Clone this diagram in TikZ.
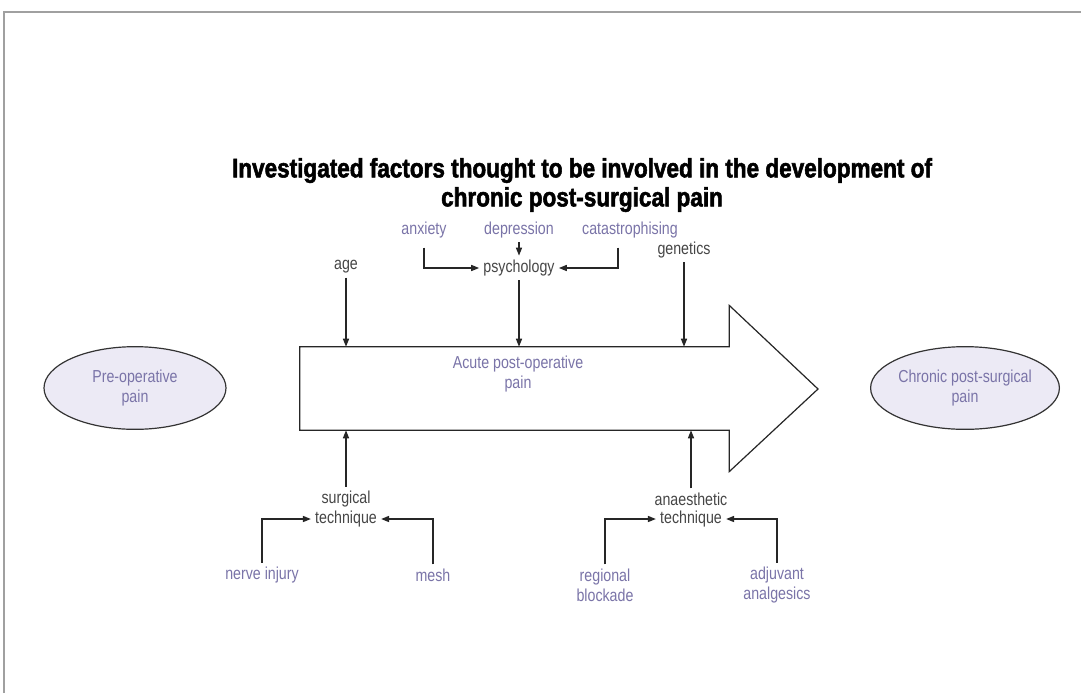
\documentclass[tikz,border=0pt]{standalone}
\usepackage{fontspec}
\usetikzlibrary{arrows.meta,shapes.geometric,positioning}
\newfontfamily\labelfont[FakeStretch=0.82]{Liberation Sans}
\newfontfamily\titlefont[FakeStretch=0.845,FakeBold=2]{Liberation Sans Bold}
\definecolor{factorcol}{RGB}{122,116,168}
\definecolor{groupcol}{RGB}{70,70,70}
\definecolor{painfill}{RGB}{236,234,245}
\definecolor{framecol}{RGB}{160,160,160}
\tikzset{
  factor/.style={text=factorcol, font=\labelfont\fontsize{13}{15}\selectfont, align=center, inner sep=3pt},
  group/.style={text=groupcol, font=\labelfont\fontsize{13}{15}\selectfont, align=center, inner sep=3pt},
  pain/.style={ellipse, draw=black!80, line width=0.9pt, fill=painfill, text=factorcol,
    font=\labelfont\fontsize{13}{15}\selectfont, align=center,
    minimum width=136.5pt, minimum height=62pt, inner sep=0pt},
  headline/.style={font=\titlefont\fontsize{20}{21.75}\selectfont, align=center},
  feed/.style={-{Triangle[length=6pt,width=4.5pt]}, line width=1.1pt, draw=black!85},
  shaftline/.style={line width=0.9pt, draw=black!85}
}
\begin{document}
\begin{tikzpicture}[x=0.75pt,y=-0.75pt]
\newcommand{\headext}{31pt}
\useasboundingbox (0,0) rectangle (1081,693);
\fill[white] (0,0) rectangle (1081,693);
\draw[framecol, line width=1.2pt] (4,693) -- (4,12) -- (1081,12);

\node[headline] (title) at (582,185) {Investigated factors thought to be involved in the development of\\chronic post-surgical pain};

\node[minimum width=321.75pt, minimum height=62.25pt, inner sep=0pt] (shaft) at (514.5,388.5) {};
\coordinate (tip) at (818,389);
\draw[shaftline] (shaft.north east) -- (shaft.north west) -- (shaft.south west) -- (shaft.south east)
  -- ([yshift=-\headext]shaft.south east) -- (tip) -- ([yshift=\headext]shaft.north east) -- cycle;
\node[factor] (acute) at (518,374) {Acute post-operative\\pain};

\node[pain] (pre) at (135,388) {Pre-operative\\pain};
\node[pain] (chronic) at (965,388) {Chronic post-surgical\\pain};

\node[factor] (anxiety) at (424,230) {anxiety};
\node[factor] (depression) at (519,230) {depression};
\node[factor] (catastroph) at (630,230) {catastrophising};
\node[group] (psychology) at (519,268) {psychology};
\node[group] (age) at (346,267) {age};
\node[group] (genetics) at (684,250) {genetics};
\draw[feed] ([yshift=-4pt]anxiety.south) |- (psychology.west);
\draw[feed] (depression) -- (psychology);
\draw[feed] ([xshift=-9pt,yshift=-4pt]catastroph.south) |- (psychology.east);
\draw[feed] (psychology) -- (psychology |- shaft.north);
\draw[feed] (age) -- (age |- shaft.north);
\draw[feed] (genetics) -- (genetics |- shaft.north);

\node[group] (surg) at (346,499) {surgical};
\node[group] (surgtech) at (346,519) {technique};
\node[factor] (nerve) at (262,575) {nerve injury};
\node[factor] (mesh) at (433,575) {mesh};
\draw[feed] (surg) -- (surg |- shaft.south);
\draw[feed] (nerve.north) |- (surgtech.west);
\draw[feed] (mesh.north) |- (surgtech.east);

\node[group] (anaes) at (691,499) {anaesthetic};
\node[group] (anaestech) at (691,519) {technique};
\node[factor] (regional) at (605,585) {regional\\blockade};
\node[factor] (adjuvant) at (777,585) {adjuvant\\analgesics};
\draw[feed] (anaes) -- (anaes |- shaft.south);
\draw[feed] (regional.north) |- (anaestech.west);
\draw[feed] (adjuvant.north) |- (anaestech.east);
\end{tikzpicture}
\end{document}
